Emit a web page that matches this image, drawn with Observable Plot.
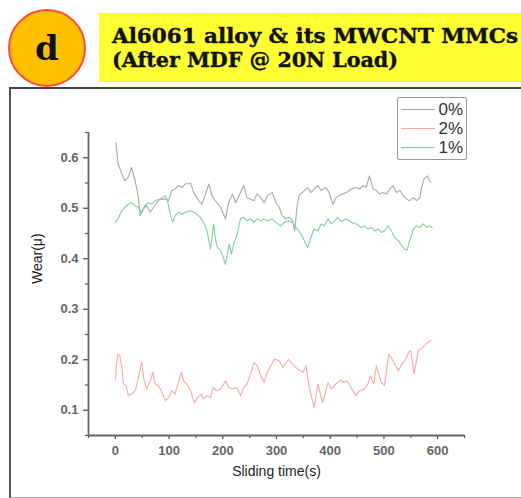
<!DOCTYPE html>
<html><head><meta charset="utf-8">
<script src="https://cdn.jsdelivr.net/npm/d3@7"></script>
<script src="https://cdn.jsdelivr.net/npm/@observablehq/plot@0.6"></script>
<style>
html,body{margin:0;padding:0;background:#fff}
body{width:521px;height:498px;overflow:hidden;position:relative;font-family:Arial,"Liberation Sans",sans-serif}
#frame{position:absolute;left:9px;top:87px;width:530px;height:408px;border-left:2px solid #555;border-top:2px solid #444;border-bottom:1px solid #aaa}
#header{position:absolute;left:0;top:0}
#chart{position:absolute;left:0;top:0}
#chart g[aria-label$="tick label"]{font-weight:bold}
#legend{position:absolute;left:397px;top:97px;width:68px;height:61px;border:1.5px solid #999;border-radius:2px;background:#fff}
.row{position:absolute;left:0;width:68px;height:19px}
.row .sw{position:absolute;left:3px;top:9px;width:34px;height:0;border-top:1.5px solid}
.row .lb{position:absolute;right:3px;top:0;font-size:17px;line-height:19px;color:#333}
</style></head><body>
<div id="frame"></div>
<svg id="header" width="521" height="90"></svg>
<div id="chart"></div>
<div id="legend"></div>
<script>
// ---- text ----
const badge = "d";
const titleLines = ["Al6061 alloy & its MWCNT MMCs", "(After MDF @ 20N Load)"];
const xLabel = "Sliding time(s)";
const yLabel = "Wear(μ)";

// ---- scales / ticks ----
const xDomain = [-50, 650];
const yDomain = [0.05, 0.65];
const xTicks = [0, 100, 200, 300, 400, 500, 600];
const xMinor = [-50, 50, 150, 250, 350, 450, 550, 650];
const yTicks = [0.1, 0.2, 0.3, 0.4, 0.5, 0.6];
const yMinor = [0.05, 0.15, 0.25, 0.35, 0.45, 0.55, 0.65];

// ---- series ----
const seriesNames = ["0%", "2%", "1%"];
const seriesColors = ["#a8a8a8", "#f7a8a8", "#7fcf9c"];

const time0 = [1,5,12,18,24,30,37,43,46,52,58,65,71,77,83,93,99,105,111,118,124,130,140,146,155,161,168,174,180,186,196,205,211,218,224,233,239,245,252,258,264,271,277,283,292,299,305,311,317,324,330,334,338,342,352,358,364,370,377,383,392,398,405,411,420,430,439,448,455,461,467,473,480,486,492,498,505,511,517,523,530,536,542,548,555,561,567,570,575,581,585,587];
const wear0 = [0.630,0.588,0.568,0.554,0.562,0.581,0.554,0.521,0.485,0.498,0.505,0.492,0.502,0.511,0.518,0.518,0.515,0.535,0.538,0.545,0.541,0.548,0.549,0.531,0.515,0.508,0.528,0.548,0.525,0.515,0.502,0.479,0.512,0.528,0.511,0.531,0.545,0.521,0.518,0.515,0.528,0.521,0.511,0.525,0.531,0.511,0.502,0.485,0.479,0.482,0.475,0.455,0.502,0.525,0.535,0.541,0.531,0.538,0.545,0.535,0.541,0.531,0.508,0.521,0.527,0.531,0.538,0.541,0.538,0.545,0.541,0.564,0.538,0.535,0.528,0.531,0.528,0.538,0.545,0.531,0.535,0.525,0.518,0.515,0.521,0.515,0.521,0.541,0.558,0.564,0.554,0.551];

const time2 = [0,2,5,8,12,15,20,24,30,37,43,49,53,58,65,70,74,80,87,93,99,105,111,118,123,127,133,140,147,153,160,164,171,177,182,188,196,205,211,218,226,233,239,245,252,258,264,271,277,283,288,296,305,312,322,330,339,349,355,361,370,377,386,396,402,411,419,425,431,439,447,455,464,470,475,481,486,495,501,509,517,527,533,539,546,550,556,564,573,581,587];
const wear2 = [0.162,0.191,0.211,0.208,0.185,0.152,0.149,0.129,0.132,0.139,0.165,0.195,0.162,0.142,0.158,0.175,0.152,0.149,0.135,0.119,0.125,0.139,0.132,0.158,0.175,0.158,0.152,0.139,0.115,0.125,0.132,0.122,0.129,0.125,0.145,0.139,0.142,0.158,0.145,0.142,0.145,0.129,0.145,0.152,0.172,0.195,0.188,0.168,0.155,0.175,0.185,0.201,0.198,0.185,0.201,0.191,0.182,0.175,0.188,0.145,0.105,0.152,0.115,0.155,0.142,0.152,0.160,0.155,0.158,0.145,0.129,0.139,0.142,0.152,0.168,0.152,0.188,0.155,0.149,0.211,0.198,0.178,0.191,0.198,0.215,0.218,0.172,0.218,0.225,0.234,0.238];

const time1 = [0,5,12,18,24,30,37,43,49,55,61,68,74,83,93,97,102,107,111,118,124,130,140,146,152,158,164,171,174,177,180,183,186,190,196,202,205,210,212,216,221,227,233,239,245,252,258,264,271,277,283,292,299,308,314,321,330,336,342,349,358,364,370,377,383,389,396,402,408,414,420,430,439,448,458,464,470,477,483,489,495,501,508,514,520,527,533,539,543,548,555,561,567,573,580,584,590];
const wear1 = [0.472,0.479,0.495,0.502,0.508,0.511,0.505,0.502,0.492,0.505,0.511,0.508,0.515,0.518,0.525,0.515,0.488,0.472,0.485,0.492,0.488,0.492,0.495,0.492,0.488,0.482,0.472,0.455,0.436,0.419,0.442,0.469,0.442,0.422,0.416,0.399,0.389,0.419,0.429,0.409,0.432,0.449,0.479,0.482,0.475,0.479,0.472,0.479,0.475,0.479,0.475,0.479,0.472,0.465,0.472,0.475,0.472,0.462,0.455,0.442,0.422,0.442,0.459,0.455,0.469,0.465,0.479,0.469,0.475,0.482,0.474,0.479,0.472,0.469,0.462,0.465,0.459,0.462,0.455,0.459,0.452,0.455,0.465,0.455,0.442,0.436,0.426,0.419,0.417,0.436,0.459,0.465,0.462,0.469,0.462,0.465,0.462];

// ---- header ----
const NS = "http://www.w3.org/2000/svg";
const hdr = document.getElementById("header");
function el(tag, attrs, text){const e=document.createElementNS(NS,tag);for(const k in attrs)e.setAttribute(k,attrs[k]);if(text!=null)e.textContent=text;hdr.appendChild(e);return e;}
el("rect",{x:99,y:13,width:422,height:69,fill:"#ffff33"});
el("circle",{cx:47,cy:48,r:38,fill:"#ffc000",stroke:"#ff4a3a","stroke-width":2});
el("text",{x:47,y:60,"text-anchor":"middle","font-family":"DejaVu Serif","font-weight":"bold","font-size":34,fill:"#111"},badge);
el("text",{x:112,y:43,"font-family":"DejaVu Serif","font-weight":"bold","font-size":21,fill:"#111",stroke:"#111","stroke-width":0.4,textLength:406,lengthAdjust:"spacingAndGlyphs"},titleLines[0]);
el("text",{x:112,y:67,"font-family":"DejaVu Serif","font-weight":"bold","font-size":21,fill:"#111",stroke:"#111","stroke-width":0.4,textLength:286,lengthAdjust:"spacingAndGlyphs"},titleLines[1]);

// ---- legend ----
const leg = document.getElementById("legend");
seriesNames.forEach((n,i)=>{
  const r=document.createElement("div");r.className="row";r.style.top=(2+i*19)+"px";
  r.innerHTML=`<div class="sw" style="border-color:${seriesColors[i]}"></div><div class="lb">${n}</div>`;
  leg.appendChild(r);
});

// ---- data table ----
const rows = [];
[[time0,wear0],[time2,wear2],[time1,wear1]].forEach(([t,w],i)=>t.forEach((x,j)=>rows.push({series:seriesNames[i],t:x,w:w[j]})));

const chart = Plot.plot({
  width:521, height:498,
  marginLeft:88, marginRight:57, marginTop:132, marginBottom:63,
  x:{domain:xDomain},
  y:{domain:yDomain},
  color:{domain:seriesNames, range:seriesColors},
  style:{fontFamily:"Arial, 'Liberation Sans', sans-serif", fontSize:"13px", color:"#666", background:"transparent", overflow:"visible"},
  marks:[
    Plot.line(rows,{x:"t",y:"w",z:"series",stroke:"series",strokeWidth:1.1}),
    Plot.axisX({ticks:xTicks,tickSize:4,tickPadding:6,label:null,stroke:"#555",strokeWidth:1.3,fill:"#666",fontSize:13}),
    Plot.axisX({ticks:xMinor,tickSize:3,tickFormat:()=>"",label:null,stroke:"#555",strokeWidth:1.2}),
    Plot.axisY({ticks:yTicks,tickSize:5,tickPadding:5,label:null,stroke:"#555",strokeWidth:1.3,fill:"#666",fontSize:13,tickFormat:d=>d3.format(".1f")(d)}),
    Plot.axisY({ticks:yMinor,tickSize:3,tickFormat:()=>"",label:null,stroke:"#555",strokeWidth:1.2}),
    Plot.ruleX([xDomain[0]],{stroke:"#666",strokeWidth:1.8}),
    Plot.ruleY([yDomain[0]],{stroke:"#666",strokeWidth:1.8}),
    Plot.text([yLabel],{text:d=>d,frameAnchor:"left",dx:-51,rotate:-90,fontSize:14,fill:"#222"}),
    Plot.text([xLabel],{text:d=>d,frameAnchor:"bottom",dy:40,fontSize:14,fill:"#222"})
  ]
});
document.getElementById("chart").appendChild(chart);
</script>
</body></html>
